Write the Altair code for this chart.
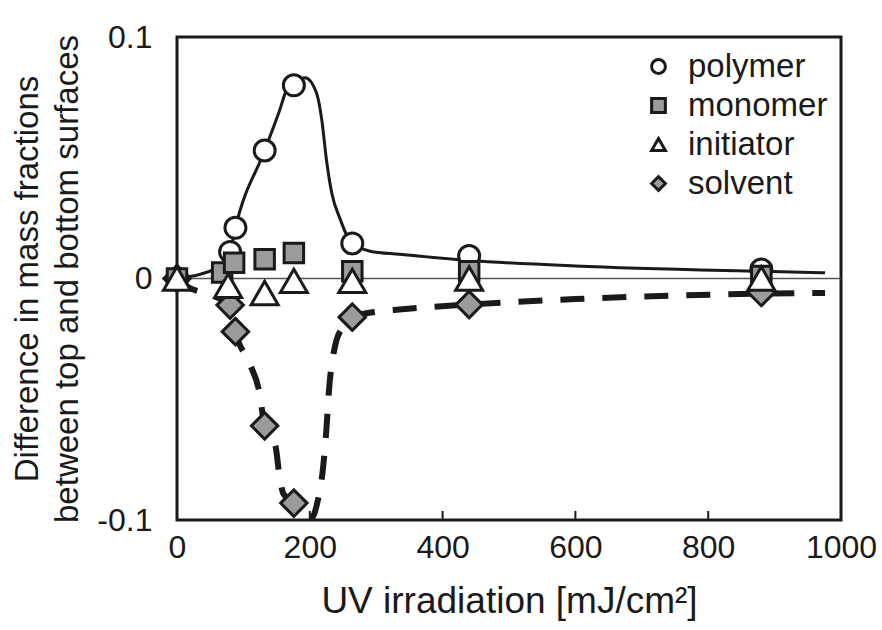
import altair as alt
import pandas as pd

# ---------------- data ----------------
series_names = ["polymer", "monomer", "initiator", "solvent"]

polymer_x = [0, 80, 88, 132, 176, 264, 440, 880]
polymer_y = [0.0, 0.011, 0.021, 0.053, 0.080, 0.0145, 0.0093, 0.0037]

monomer_x = [0, 68, 86, 132, 176, 264, 440, 880]
monomer_y = [0.0, 0.0025, 0.0065, 0.008, 0.0106, 0.003, 0.003, 0.001]

initiator_x = [0, 77, 132, 176, 264, 440, 880]
initiator_y = [0.0, -0.003, -0.006, -0.001, -0.001, 0.0, 0.0]

solvent_x = [0, 80, 88, 132, 176, 264, 440, 880]
solvent_y = [0.0, -0.011, -0.022, -0.061, -0.093, -0.016, -0.0108, -0.0058]

# fitted curves
polymer_fit_x = [0, 65, 80, 88, 132, 155, 165, 176, 193, 210, 218, 225, 233, 246, 261, 291, 335, 440, 600, 880, 976]
polymer_fit_y = [0.0, 0.005, 0.011, 0.021, 0.053, 0.070, 0.078, 0.0805, 0.0831, 0.0769, 0.0658, 0.0493, 0.0355, 0.0244, 0.0154, 0.0113, 0.0100, 0.0075, 0.0052, 0.0030, 0.0024]

solvent_fit_x = [0, 13, 48, 80, 88, 109, 124, 132, 148, 155, 160, 176, 190, 203, 212, 218, 225, 229, 238, 250, 264, 305, 335, 440, 600, 880, 976]
solvent_fit_y = [0.0, -0.003, -0.0066, -0.011, -0.022, -0.035, -0.047, -0.061, -0.069, -0.083, -0.089, -0.093, -0.097, -0.099, -0.092, -0.083, -0.0625, -0.046, -0.028, -0.020, -0.016, -0.0136, -0.0128, -0.0108, -0.0085, -0.0063, -0.006]

x_tick_values = [0, 200, 400, 600, 800, 1000]
y_tick_values = [-0.1, 0, 0.1]
inner_tick_values = [200, 400, 600, 800]

# ---------------- tables ----------------
def series_df(name, xs, ys):
    return pd.DataFrame({"series": [name] * len(xs), "x": xs, "y": ys})

polymer_df = series_df("polymer", polymer_x, polymer_y)
monomer_df = series_df("monomer", monomer_x, monomer_y)
initiator_df = series_df("initiator", initiator_x, initiator_y)
solvent_df = series_df("solvent", solvent_x, solvent_y)

poly_fit_df = pd.DataFrame({"x": polymer_fit_x, "y": polymer_fit_y})
solv_fit_df = pd.DataFrame({"x": solvent_fit_x, "y": solvent_fit_y})
zero_df = pd.DataFrame({"y": [0]})
ticks_df = pd.DataFrame({"x": inner_tick_values})

FONT = "Liberation Sans"
INK = "#1a1a1a"
GREY = "#9b9b9b"
DIAMOND = "M-1,0L0,-1L1,0L0,1Z"

x_scale = alt.Scale(domain=[0, 1000], nice=False)
y_scale = alt.Scale(domain=[-0.1, 0.1], nice=False)

x_axis = alt.Axis(values=x_tick_values, format="d", title="UV irradiation [mJ/cm²]",
                  labelFontSize=32, labelFont=FONT, labelColor=INK,
                  labelFlush=False, labelOverlap=False, labelPadding=12,
                  ticks=False, tickSize=0, domain=False, grid=False,
                  titleFontSize=37, titleFont=FONT, titleColor=INK,
                  titleFontWeight="normal", titleY=92, titleBaseline="alphabetic")
y_axis = alt.Axis(values=y_tick_values,
                  title=["Difference in mass fractions", "between top and bottom surfaces"],
                  labelExpr="replace(format(datum.value, '.1~f'), '−', '-')",
                  labelFontSize=32, labelFont=FONT, labelColor=INK,
                  labelFlush=False, labelOverlap=False, labelPadding=25,
                  ticks=False, tickSize=0, domain=False, grid=False,
                  titleFontSize=33, titleFont=FONT, titleColor=INK,
                  titleFontWeight="normal", titleLineHeight=40,
                  titleX=-150, titleY=241.5, titleAngle=270,
                  titleAlign="center", titleBaseline="middle")

X = alt.X("x:Q", scale=x_scale, axis=x_axis)
Y = alt.Y("y:Q", scale=y_scale, axis=y_axis)

zero_line = alt.Chart(zero_df).mark_rule(color="#555555", strokeWidth=1.5).encode(y=Y)

inner_ticks = alt.Chart(ticks_df).mark_rule(color=INK, strokeWidth=2).encode(
    x=X, y=alt.value(483), y2=alt.value(474)
)

poly_line = alt.Chart(poly_fit_df).mark_line(
    color=INK, strokeWidth=3, interpolate="monotone", clip=True
).encode(x=X, y=Y)

solv_line = alt.Chart(solv_fit_df).mark_line(
    color=INK, strokeWidth=6, strokeDash=[24, 18], interpolate="monotone", clip=True
).encode(x=X, y=Y)

legend = alt.Legend(title=None, orient="top-right", offset=13,
                    labelFontSize=33, labelFont=FONT, labelColor=INK,
                    labelOffset=13, rowPadding=5,
                    symbolSize=190, symbolStrokeWidth=3)

shape_enc = alt.Shape("series:N", scale=alt.Scale(domain=series_names,
                      range=["circle", "square", "triangle-up", DIAMOND]), legend=legend)
fill_enc = alt.Fill("series:N", scale=alt.Scale(domain=series_names,
                    range=["#ffffff", GREY, "#ffffff", GREY]), legend=legend)
stroke_enc = alt.Stroke("series:N", scale=alt.Scale(domain=series_names,
                        range=[INK, INK, INK, INK]), legend=legend)


def point_layer(df, size):
    return alt.Chart(df).mark_point(
        filled=True, strokeWidth=3, opacity=1, size=size
    ).encode(x=X, y=Y, shape=shape_enc, fill=fill_enc, stroke=stroke_enc)


polymer_pts = point_layer(polymer_df, 441)
solvent_pts = point_layer(solvent_df, 700)
monomer_pts = point_layer(monomer_df, 380)
initiator_pts = point_layer(initiator_df, 729)

chart = alt.layer(
    zero_line, inner_ticks, poly_line, solv_line,
    polymer_pts, solvent_pts, monomer_pts, initiator_pts
).properties(
    width=664, height=483,
    autosize=alt.AutoSizeParams(type="none"),
    padding={"left": 177, "top": 37, "right": 41, "bottom": 110},
    background="white",
).configure_view(stroke=INK, strokeWidth=3)

chart.save("out.html", embed_options={"renderer": "svg", "actions": False})
